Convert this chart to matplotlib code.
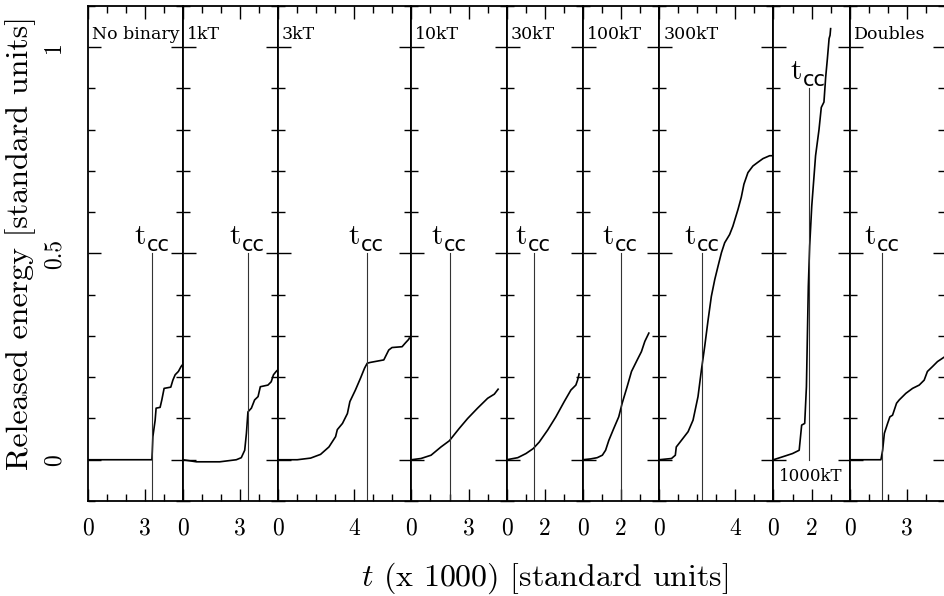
import matplotlib
matplotlib.use('Agg')
import matplotlib.pyplot as plt
from matplotlib.ticker import MultipleLocator

plt.rcParams['mathtext.fontset'] = 'cm'
plt.rcParams['axes.formatter.use_mathtext'] = True

# ---------------- data ----------------
panel_labels = ['No binary', '1kT', '3kT', '10kT', '30kT', '100kT', '300kT', '1000kT', 'Doubles']
x_max = [5, 5, 7, 5, 4, 4, 6, 4, 5]
x_major = [3, 3, 4, 3, 2, 2, 4, 2, 3]
t_cc = [3.41, 3.42, 4.68, 2.00, 1.41, 1.98, 2.27, 1.88, 1.72]
tcc_top = [0.5, 0.5, 0.5, 0.5, 0.5, 0.5, 0.5, 0.9, 0.5]
tcc_bottom = [-0.1, -0.1, -0.1, -0.1, -0.1, -0.1, -0.1, 0.0, -0.1]

t_nobin = [0, 3.38, 3.40, 3.43, 3.55, 3.60, 3.81, 3.90, 4.02, 4.37, 4.48, 4.60, 4.77, 4.91, 4.98]
e_nobin = [0, 0, 0.02, 0.056, 0.096, 0.125, 0.127, 0.145, 0.173, 0.176, 0.193, 0.206, 0.214, 0.226, 0.23]

t_1kT = [0, 0.72, 1.94, 2.81, 3.07, 3.25, 3.34, 3.42, 3.60, 3.77, 3.95, 4.07, 4.47, 4.64, 4.76, 4.90, 4.99]
e_1kT = [0, -0.005, -0.005, 0, 0.005, 0.023, 0.064, 0.116, 0.125, 0.145, 0.153, 0.177, 0.181, 0.189, 0.206, 0.214, 0.218]

t_3kT = [0, 1.01, 1.71, 2.23, 2.67, 3.02, 3.11, 3.38, 3.64, 3.77, 4.06, 4.33, 4.54, 4.68, 4.85, 5.55, 5.81, 5.98, 6.51, 6.68, 6.86, 6.89]
e_3kT = [0, 0, 0.004, 0.013, 0.031, 0.056, 0.073, 0.088, 0.112, 0.141, 0.169, 0.198, 0.222, 0.234, 0.236, 0.242, 0.266, 0.272, 0.274, 0.283, 0.292, 0.295]

t_10kT = [0, 0.5, 1.03, 1.55, 1.99, 2.51, 2.95, 3.47, 4.0, 4.35, 4.55]
e_10kT = [0, 0.003, 0.011, 0.031, 0.046, 0.076, 0.10, 0.125, 0.149, 0.159, 0.171]

t_30kT = [0, 0.58, 1.01, 1.39, 1.71, 2.15, 2.58, 3.02, 3.37, 3.63, 3.72, 3.80]
e_30kT = [0, 0.005, 0.015, 0.027, 0.043, 0.072, 0.104, 0.141, 0.169, 0.181, 0.193, 0.208]

t_100kT = [0, 0.40, 0.75, 1.02, 1.19, 1.36, 1.62, 1.88, 2.06, 2.32, 2.55, 2.85, 3.07, 3.25, 3.46]
e_100kT = [0, 0.002, 0.005, 0.011, 0.023, 0.047, 0.076, 0.104, 0.137, 0.177, 0.214, 0.242, 0.262, 0.287, 0.307]

t_300kT = [0, 0.65, 0.85, 0.90, 1.17, 1.52, 1.78, 2.04, 2.22, 2.39, 2.57, 2.74, 2.92, 3.09, 3.27, 3.44,
           3.70, 3.87, 4.14, 4.31, 4.45, 4.66, 4.92, 5.18, 5.45, 5.80, 5.92]
e_300kT = [0, 0.003, 0.011, 0.031, 0.047, 0.068, 0.096, 0.153, 0.218, 0.274, 0.339, 0.396, 0.437, 0.469, 0.502, 0.526,
           0.546, 0.566, 0.607, 0.636, 0.668, 0.696, 0.712, 0.721, 0.730, 0.737, 0.737]

t_1000kT = [0, 0.47, 1.0, 1.35, 1.48, 1.64, 1.73, 1.83, 1.90, 2.01, 2.13, 2.21, 2.39, 2.51, 2.65, 2.74, 2.83, 2.92, 2.97, 3.0]
e_1000kT = [0, 0.007, 0.015, 0.023, 0.084, 0.088, 0.177, 0.42, 0.518, 0.615, 0.688, 0.737, 0.80, 0.854, 0.867, 0.927, 0.972, 1.021, 1.029, 1.045]

t_doubles = [0, 1.2, 1.64, 1.73, 1.82, 1.99, 2.11, 2.25, 2.46, 2.60, 2.95, 3.30, 3.65, 3.91, 4.08, 4.35, 4.61, 4.87, 5.0]
e_doubles = [0, 0, 0, 0.023, 0.064, 0.088, 0.104, 0.108, 0.137, 0.145, 0.161, 0.173, 0.181, 0.193, 0.214, 0.226, 0.238, 0.246, 0.25]

curves_t = [t_nobin, t_1kT, t_3kT, t_10kT, t_30kT, t_100kT, t_300kT, t_1000kT, t_doubles]
curves_e = [e_nobin, e_1kT, e_3kT, e_10kT, e_30kT, e_100kT, e_300kT, e_1000kT, e_doubles]

y_range = (-0.1, 1.1)

# ---------------- figure ----------------
fig = plt.figure(figsize=(9.44, 5.96), dpi=100)
gs = fig.add_gridspec(1, len(x_max), width_ratios=x_max,
                      left=0.0927, right=1.001, top=0.990, bottom=0.1594, wspace=0)

tick_font = dict(family='cmr10', size=17)

for i in range(len(x_max)):
    ax = fig.add_subplot(gs[0, i])
    ax.plot(curves_t[i], curves_e[i], color='black', lw=1.2, solid_joinstyle='round')
    ax.plot([t_cc[i], t_cc[i]], [tcc_bottom[i], tcc_top[i]], color='#333333', lw=0.8)
    ax.annotate('t', xy=(t_cc[i], tcc_top[i]), xytext=(-7, 9), textcoords='offset pixels',
                ha='right', va='baseline', family='cmr10', fontsize=21)
    ax.annotate('cc', xy=(t_cc[i], tcc_top[i]), xytext=(-6, 2), textcoords='offset pixels',
                ha='left', va='baseline', family='DejaVu Sans', fontsize=15)

    if panel_labels[i] == '1000kT':
        ax.annotate(panel_labels[i], xy=(0, -0.04), xycoords=('axes fraction', 'data'),
                    xytext=(5, 0), textcoords='offset pixels', ha='left', va='center',
                    family='DejaVu Serif', fontsize=12)
    else:
        ax.annotate(panel_labels[i], xy=(0, 1.02), xycoords=('axes fraction', 'data'),
                    xytext=(4, 0), textcoords='offset pixels', ha='left', va='baseline',
                    family='DejaVu Serif', fontsize=12.5)

    ax.set_xlim(0, x_max[i])
    ax.set_ylim(*y_range)
    ax.set_xticks([0, x_major[i]])
    ax.xaxis.set_minor_locator(MultipleLocator(1))
    ax.set_yticks([0, 0.5, 1])
    ax.yaxis.set_minor_locator(MultipleLocator(0.1))
    ax.set_xticklabels(['0', str(x_major[i])], fontdict=tick_font)
    if i == 0:
        ax.set_yticklabels(['0', '0.5', '1'], fontdict=tick_font, rotation=90, va='center')
    else:
        ax.set_yticklabels([])
    ax.tick_params(which='both', direction='in', top=True, right=True, width=1.0, color='black')
    ax.tick_params(which='major', length=9)
    ax.tick_params(which='minor', length=5)
    ax.tick_params(axis='x', which='major', pad=12)
    ax.tick_params(axis='y', which='major', pad=16)
    for s in ax.spines.values():
        s.set_linewidth(1.3)

fig.text(0.022, 0.592, 'Released energy [standard units]', rotation=90, ha='center', va='center',
         family='cmr10', fontsize=23)
fig.text(0.577, 0.030, r'$t$ (x 1000) [standard units]', ha='center', va='center',
         family='cmr10', fontsize=23)

fig.savefig('out.png', dpi=100)
